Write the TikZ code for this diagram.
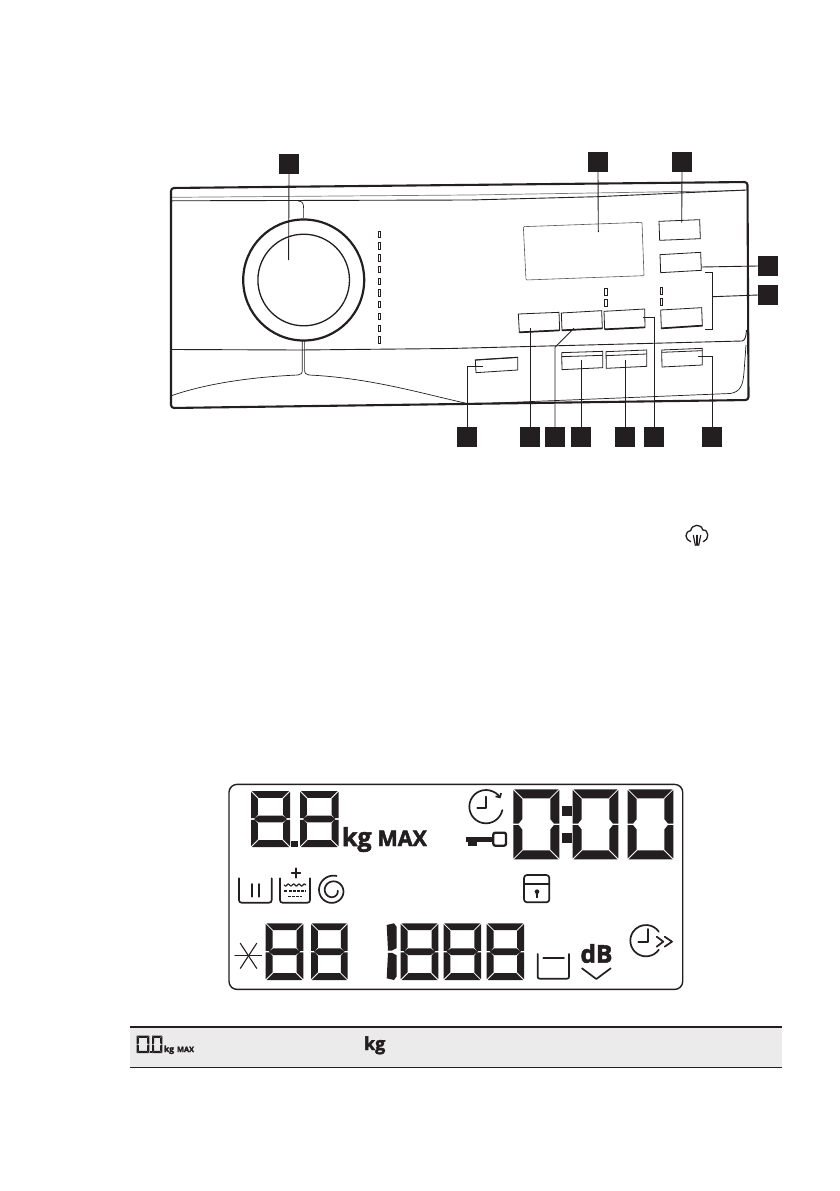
\documentclass[tikz,border=0pt]{standalone}
\usepackage{fontspec}
\setmainfont{Open Sans}
\newfontfamily\hvy[BoldFeatures={FakeBold=2}]{Open Sans}
\usetikzlibrary{arrows.meta}
\definecolor{ink}{HTML}{231F20}
\definecolor{band}{HTML}{EBEBEB}
\tikzset{
  badge/.style={fill=ink,draw=none,minimum size=20pt,inner sep=0pt,outer sep=0pt},
  lead/.style={draw=ink,line width=0.9pt},
  panel/.style={draw=ink,line width=2.1pt,line join=round,rounded corners=3pt},
  thin line/.style={draw=ink,line width=0.7pt},
  btn/.style={draw=ink,line width=0.8pt},
  heavy/.style={draw=ink,line width=1.7pt},
  led/.style={draw=ink,line width=0.5pt},
  icon/.style={draw=ink,line width=1.7pt,line cap=round,line join=round},
  zoomL/.style={shift={(225,780)},x=0.33333pt,y=-0.33333pt},
  zoomR/.style={shift={(460,780)},x=0.33333pt,y=-0.33333pt},
  zoomP/.style={shift={(450,140)},x=0.33333pt,y=-0.33333pt},
  lbl/.style={inner sep=0pt,outer sep=0pt,anchor=base west,text=ink},
}
% seven-segment digit: x y w h t g
\newcommand{\segsetup}[4]{\def\DW{#1}\def\DH{#2}\def\DT{#3}\def\DG{#4}\pgfmathsetmacro\DM{#2/2}}
\newcommand{\segtop}{\fill[ink] (\DG,0)--({\DW-\DG},0)--({\DW-\DG-\DT},\DT)--({\DG+\DT},\DT)--cycle;}
\newcommand{\segbot}{\fill[ink] (\DG,\DH)--({\DW-\DG},\DH)--({\DW-\DG-\DT},{\DH-\DT})--({\DG+\DT},{\DH-\DT})--cycle;}
\newcommand{\segmid}{\fill[ink] ({\DG+\DT/3},\DM)--({\DG+\DT},{\DM-\DT/2})--({\DW-\DG-\DT},{\DM-\DT/2})--({\DW-\DG-\DT/3},\DM)--({\DW-\DG-\DT},{\DM+\DT/2})--({\DG+\DT},{\DM+\DT/2})--cycle;}
\newcommand{\segleft}{\fill[ink] (0,\DG)--(\DT,{\DG+\DT})--(\DT,{\DM-\DT/2-\DG})--({\DT*0.6},{\DM-\DG})--(0,{\DM-\DG})--cycle;
  \fill[ink] (0,{\DH-\DG})--(\DT,{\DH-\DG-\DT})--(\DT,{\DM+\DT/2+\DG})--({\DT*0.6},{\DM+\DG})--(0,{\DM+\DG})--cycle;}
\newcommand{\segright}{\fill[ink] (\DW,\DG)--({\DW-\DT},{\DG+\DT})--({\DW-\DT},{\DM-\DT/2-\DG})--({\DW-\DT*0.6},{\DM-\DG})--(\DW,{\DM-\DG})--cycle;
  \fill[ink] (\DW,{\DH-\DG})--({\DW-\DT},{\DH-\DG-\DT})--({\DW-\DT},{\DM+\DT/2+\DG})--({\DW-\DT*0.6},{\DM+\DG})--(\DW,{\DM+\DG})--cycle;}
\newcommand{\digeight}[6]{\begin{scope}[shift={(#1,#2)}]\segsetup{#3}{#4}{#5}{#6}\segtop\segbot\segmid\segleft\segright\end{scope}}
\newcommand{\digzero}[6]{\begin{scope}[shift={(#1,#2)}]\segsetup{#3}{#4}{#5}{#6}\segtop\segbot\segleft\segright\end{scope}}
\begin{document}
\begin{tikzpicture}[x=1pt,y=-1pt]
\useasboundingbox[fill=white] (0,0) rectangle (839,1191);

%% --- panel body ---
\draw[panel] (171,408)--(171,188)--(747.5,182)--(748.5,400)--cycle;
\draw[draw=ink!60,line width=0.7pt] (172,197.3)--(470,195)--(745,190.5);
\draw[thin line,line width=0.9pt] (172,200.8)--(470,200)--(597,196.7)--(746,190);
\draw[thin line] (298,201)..controls (302,201) and (303.6,203) .. (303.6,208)--(303.6,218);
\draw[thin line,line width=0.9pt] (172,349.5)--(300,350)--(450,348.5)--(742,341)..controls (745,340.5) and (746,337) .. (746.5,330);
\draw[thin line] (302.3,341)--(302.3,370)..controls (302.3,373.5) and (301,374.5) .. (298,375)
   ..controls (250,377) and (205,384) .. (172,395.5);
\draw[thin line] (304.6,341)--(304.6,370)..controls (304.6,373.5) and (306,374.5) .. (309,375)
   ..controls (370,378) and (420,393) .. (465,403);
\draw[thin line] (746,345)--(744,372)..controls (743,386) and (740,392) .. (730,393.5)--(470,404);

%% --- knob ---
\draw[draw=ink,line width=2.2pt] (303.7,280) circle (60.5);
\draw[draw=ink,line width=1.3pt] (303.7,280) circle (45.8);

%% --- LED column ---
\foreach \i in {0,...,9}{
  \draw[led] ({378.2},{231+11.72*\i}) rectangle ({380.6},{237.4+11.72*\i});
}

%% --- right part of panel (3x zoom coordinates) ---
\begin{scope}[zoomP]
  \draw[draw=ink!75,line width=0.6pt,rounded corners=1pt] (220,260)--(576,247)--(582,407)--(228,420)--cycle;
  \draw[btn] (627,244)--(749,239)--(751,296)--(629,301)--cycle;
  \draw[btn] (630,344)--(752,337)--(754,391)--(632,398)--cycle;
  \draw[btn] (632,510)--(755,503)--(757,557)--(634,565)--cycle;
  \draw[heavy] (634,565)--(757,557);
  \draw[btn] (205,522)--(327,517)--(329,571)--(208,577)--cycle;
  \draw[heavy] (208,577)--(329,571);
  \draw[btn] (334,519)--(455,512)--(457,565)--(336,571)--cycle;
  \draw[heavy] (336,571)--(457,565);
  \draw[btn] (462,514)--(584,507)--(585,562)--(464,568)--cycle;
  \draw[heavy] (464,568)--(585,562);
  \draw[btn] (335,638)--(458,634)--(458,683)--(336,689)--cycle;
  \draw[btn] (335,650)--(458,646);
  \draw[btn] (468,635)--(590,630)--(590,679)--(469,685)--cycle;
  \draw[btn] (468,647)--(590,642);
  \draw[btn] (635,630)--(757,625)--(757,675)--(636,681)--cycle;
  \draw[btn] (635,637)--(757,632);
  \draw[btn] (76,660)--(203,652)--(203,690)--(78,698)--cycle;
  \draw[heavy,line width=1.1pt] (76,660)--(203,652);
  \draw[led,line width=0.8pt] (463,446) rectangle (471,466);
  \draw[led,line width=0.8pt] (463,479) rectangle (471,499);
  \draw[led,line width=0.8pt] (630,442) rectangle (638,462);
  \draw[led,line width=0.8pt] (630,476) rectangle (638,496);
\end{scope}

%% --- badges ---
\node[badge] (b1) at (289,164) {};
\node[badge] (b2) at (598,162) {};
\node[badge] (b3) at (682,162) {};
\node[badge] (b4) at (768,266) {};
\node[badge] (b5) at (768,295) {};
\node[badge] (b6) at (467,437) {};
\node[badge] (b7) at (530,437) {};
\node[badge] (b8) at (555,437) {};
\node[badge] (b9) at (581,437) {};
\node[badge] (b10) at (625,437) {};
\node[badge] (b11) at (654,437) {};
\node[badge] (b12) at (712,437) {};

%% --- leader ends ---
\coordinate (e1) at (288.6,260);
\coordinate (e2) at (598.3,232);
\coordinate (e3) at (681.7,222.5);
\coordinate (e4) at (701.7,267);
\coordinate (e5t) at (705,272.3);
\coordinate (e5b) at (705,329.3);
\coordinate (e5c) at (712.7,296.7);
\coordinate (e6) at (483.3,366.7);
\coordinate (e7) at (530,328.3);
\coordinate (e8) at (574,328.3);
\coordinate (e8k) at (555,347.3);
\coordinate (e9) at (581,360);
\coordinate (e10) at (625,360);
\coordinate (e11) at (642.7,317.7);
\coordinate (e12) at (698,356.3);

\draw[lead] (b1.south)--(e1);
\draw[lead] (b2.south)--(e2);
\draw[lead] (b3.south)--(e3);
\draw[lead] (b4.west)--(e4);
\draw[lead] (e5t)-|(e5c)|-(e5b);
\draw[lead] (b5.west)--(e5c);
\draw[lead] (b6.north)|-(e6);
\draw[lead] (b7.north)--(e7);
\draw[lead] (b8.north)--(e8k)--(e8);
\draw[lead] (b9.north)--(e9);
\draw[lead] (b10.north)--(e10);
\draw[lead] (b11.north)|-(e11);
\draw[lead] (b12.north)|-(e12);

%% --- steam icon ---
\begin{scope}[shift={(670,520)},x=0.33333pt,y=-0.33333pt]
  \draw[icon,line width=1.3pt] (62,65)..controls (45,60) and (42,35) .. (62,32)
     ..controls (65,12) and (95,10) .. (98,30)
     ..controls (118,28) and (118,60) .. (100,65);
  \draw[icon,line width=1.2pt] (70,46)--(76,76);
  \draw[icon,line width=1.2pt] (81,46)--(81,76);
  \draw[icon,line width=1.2pt] (92,46)--(86,76);
\end{scope}

%% --- LCD frame ---
\draw[draw=ink,line width=1.4pt,rounded corners=8pt] (229,784.4) rectangle (682.7,989.4);

%% --- LCD digits ---
\digeight{251}{791}{39}{56}{6.8}{0.8}
\digeight{300}{791}{38.5}{56}{6.8}{0.8}
\fill[ink] (290.5,840.5) rectangle (297.5,847.3);
\digzero{513.3}{789.3}{46}{70}{9}{0.8}
\digzero{572.7}{789.3}{45.6}{70}{9}{0.8}
\digzero{627.7}{789.3}{45.6}{70}{9}{0.8}
\fill[ink] (561.7,806) rectangle (571.7,815.7);
\fill[ink] (561.7,832.7) rectangle (571.7,842.7);
\digeight{265.7}{923.3}{37.6}{56.7}{6.8}{0.8}
\digeight{311}{923.3}{36.7}{56.7}{6.8}{0.8}
\fill[ink] (386.7,925) -- (394,923.3) -- (396.7,927) -- (396.7,948) -- (392,950.5) -- (388,950.5) -- cycle;
\fill[ink] (386.7,978.3) -- (394,980) -- (396.7,976.3) -- (396.7,955.3) -- (392,952.8) -- (388,952.8) -- cycle;
\digeight{400.7}{923.3}{37.6}{56.7}{6.8}{0.8}
\digeight{443.5}{923.3}{37.6}{56.7}{6.8}{0.8}
\digeight{486.7}{923.3}{37.3}{56.7}{6.8}{0.8}

%% --- LCD labels ---
\node[lbl,font=\hvy\fontsize{25}{25}\selectfont\bfseries] (kg1) at (342,846) {kg};
\node[lbl,font=\hvy\fontsize{21.5}{21.5}\selectfont\bfseries] (max1) at (377.5,846) {MAX};
\node[lbl,font=\hvy\fontsize{24.5}{24.5}\selectfont\bfseries] (db1) at (580.5,962.7) {dB};

%% --- left LCD icons ---
\begin{scope}[zoomL]
  \draw[icon] (42,295)--(42,360)..controls (42,366) and (45,368) .. (50,368)--(132,368)..controls (137,368) and (140,366) .. (140,360)--(140,295);
  \draw[icon] (82,312)--(82,350);
  \draw[icon] (103,312)--(103,350);
  \draw[icon] (165,295)--(165,360)..controls (165,366) and (168,368) .. (173,368)--(247,368)..controls (252,368) and (255,366) .. (255,360)--(255,295);
  \draw[icon] (213,265)--(213,293);
  \draw[icon] (200,279)--(226,279);
  \draw[icon,line width=1.2pt] plot[domain=178:242,samples=40] (\x,{315+3*sin(22.5*(\x-178))});
  \draw[icon,line width=1.4pt,line cap=butt,dash pattern=on 3pt off 1.2pt] (178,333)--(242,333);
  \draw[icon,line width=1.4pt,line cap=butt,dash pattern=on 2.5pt off 1.5pt] (190,349)--(232,349);
  \draw[icon,line width=1.7pt] plot[domain=-360:285,samples=120,smooth] ({323+(15+0.0477*(\x+360))*cos(\x)},{332+(15+0.0477*(\x+360))*sin(\x)});
  \draw[icon,line width=1.1pt] (30,527)--(110,527);
  \draw[icon,line width=1.1pt] (46,490)--(95,565);
  \draw[icon,line width=1.1pt] (95,490)--(46,565);
\end{scope}

%% --- right LCD icons ---
\begin{scope}[zoomR]
  \draw[icon,-{Straight Barb[length=3pt,width=6.5pt]}] (78,80)++(12:50) arc[start angle=12,end angle=330,radius=50];
  \draw[icon] (78,50)--(78,85)--(52,85);
  \fill[ink] (18,172) rectangle (100,186);
  \fill[ink] (25,186) rectangle (50,199);
  \draw[draw=ink,line width=2.3pt,rounded corners=2pt] (100,158) rectangle (138,197);
  \draw[icon,rounded corners=3pt] (192,285) rectangle (268,367);
  \draw[icon] (192,313)--(268,313);
  \fill[ink] (231,335) circle (7);
  \fill[ink] (228.5,335) rectangle (233.5,353);
  \draw[icon] (233,522)--(233,590)..controls (233,594) and (235,596) .. (239,596)--(321,596)..controls (325,596) and (327,594) .. (327,590)--(327,522);
  \draw[icon] (250,535)--(312,535);
  \draw[icon,line width=1.7pt] (366,565)--(409,597)--(452,565);
  \draw[icon] (558,482)++(35:47) arc[start angle=35,end angle=325,radius=47];
  \draw[icon] (563,447)--(563,485)--(535,485);
  \draw[icon] (590,470)--(610,485)--(590,500);
  \draw[icon] (614,470)--(636,485)--(614,500);
\end{scope}

%% --- table row ---
\fill[band] (130,1027) rectangle (782,1067);
\draw[draw=ink,line width=1.5pt] (130,1027)--(782,1027);
\draw[draw=ink,line width=0.9pt] (130,1067)--(782,1067);
\digzero{136.7}{1035.7}{12.6}{17.3}{2.2}{0.2}
\fill[ink] (149.8,1051) rectangle (151.6,1053);
\digzero{152}{1035.7}{10.4}{17.3}{2.2}{0.2}
\node[lbl,font=\hvy\fontsize{8.5}{8.5}\selectfont\bfseries] (kg2) at (164,1052) {kg};
\node[lbl,font=\hvy\fontsize{7.4}{7.4}\selectfont\bfseries] (max2) at (177,1052) {MAX};
\node[lbl,font=\hvy\fontsize{18}{18}\selectfont\bfseries] (kg3) at (364,1050) {kg};
\end{tikzpicture}
\end{document}
